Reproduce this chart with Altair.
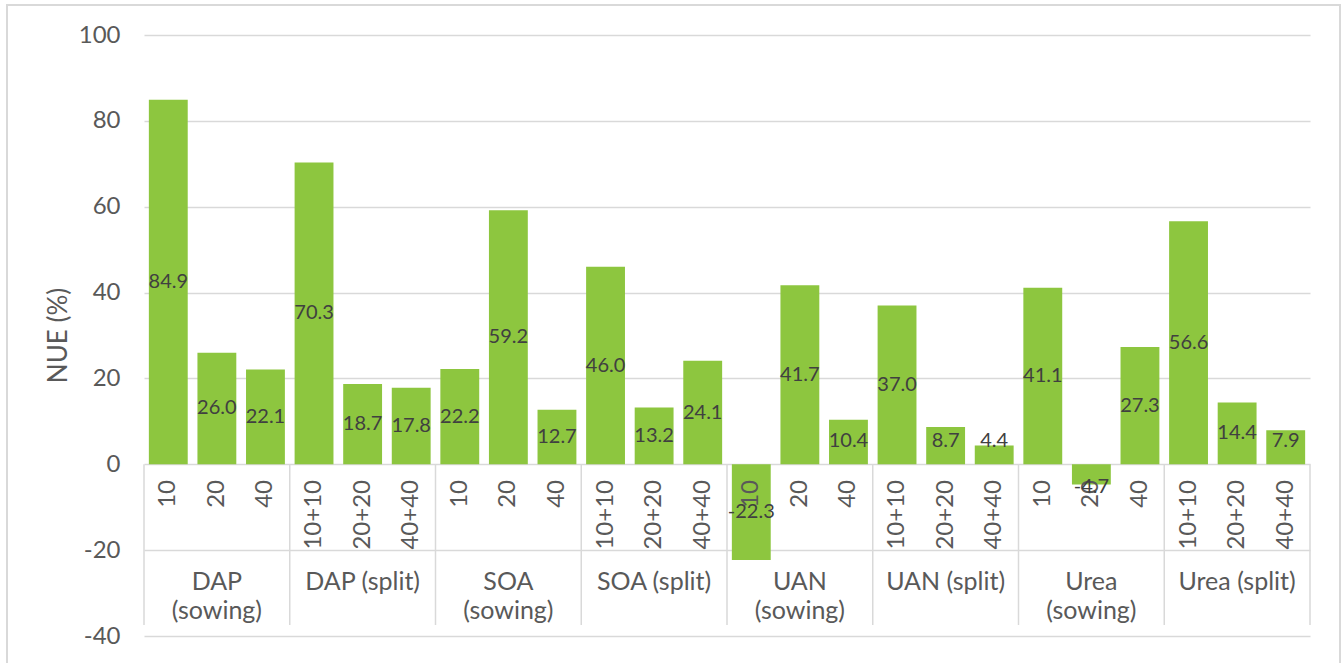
import altair as alt
import pandas as pd

groups = ["DAP\n(sowing)", "DAP (split)", "SOA\n(sowing)", "SOA (split)",
          "UAN\n(sowing)", "UAN (split)", "Urea\n(sowing)", "Urea (split)"]
doses_sowing = ["10", "20", "40"]
doses_split = ["10+10", "20+20", "40+40"]
values = [84.9, 26.0, 22.1, 70.3, 18.7, 17.8, 22.2, 59.2, 12.7, 46.0, 13.2, 24.1,
          -22.3, 41.7, 10.4, 37.0, 8.7, 4.4, 41.1, -4.7, 27.3, 56.6, 14.4, 7.9]
y_ticks = [-40, -20, 0, 20, 40, 60, 80, 100]

rows = []
for g_i, g in enumerate(groups):
    doses = doses_split if "split" in g else doses_sowing
    for d_i, d in enumerate(doses):
        i = g_i * 3 + d_i
        rows.append({"idx": i, "group": g, "dose": d, "value": values[i]})
df = pd.DataFrame(rows)
gdf = pd.DataFrame({"gidx": list(range(len(groups))), "group": groups})
sep = pd.DataFrame({"b": list(range(0, len(values) + 1, 3))})

FONT = "Lato"
TXT = "#595959"
GRID = "#D9D9D9"

xs = alt.Scale(domain=[0, len(values)], nice=False, zero=False)
ys = alt.Scale(domain=[-40, 100], nice=False)

yaxis = alt.Axis(values=y_ticks, title="NUE (%)", grid=True, gridColor=GRID, gridWidth=1.5,
                 domain=False, ticks=False, labelFont=FONT, labelFontSize=24, labelColor=TXT,
                 labelPadding=24, labelExpr="replace(datum.label, '\u2212', '-')",
                 titleFont=FONT, titleFontSize=26, titleColor=TXT,
                 titleFontWeight="normal", titleX=-86, titleY=300, titleAngle=270,
                 titleAlign="center", titleBaseline="middle")

bars = alt.Chart(df).transform_calculate(
    x0="datum.idx + 0.1", x1="datum.idx + 0.9"
).mark_bar(color="#8DC63F").encode(
    x=alt.X("x0:Q", scale=xs, axis=None),
    x2="x1:Q",
    y=alt.Y("value:Q", scale=ys, axis=yaxis),
    y2=alt.Y2(datum=0),
)

seps = alt.Chart(sep).mark_rule(color=GRID, strokeWidth=1.5).encode(
    x=alt.X("b:Q", scale=xs, axis=None),
    y=alt.Y(datum=0, type="quantitative", scale=ys, axis=yaxis),
    y2=alt.value(590),
)

dose_txt = alt.Chart(df).transform_calculate(xc="datum.idx + 0.5").mark_text(
    angle=270, align="right", baseline="middle", font=FONT, fontSize=24, color=TXT
).encode(
    x=alt.X("xc:Q", scale=xs, axis=None),
    y=alt.value(445),
    text="dose:N",
)

group_txt = alt.Chart(gdf).transform_calculate(gc="datum.gidx * 3 + 1.5").mark_text(
    lineBreak="\n", lineHeight=29, align="center", baseline="alphabetic",
    font=FONT, fontSize=25, color=TXT
).encode(
    x=alt.X("gc:Q", scale=xs, axis=None),
    y=alt.value(555),
    text="group:N",
)

val_txt = alt.Chart(df).transform_calculate(
    xc="datum.idx + 0.5",
    mid="datum.value >= 0 ? max(datum.value / 2, 5.4) : min(datum.value / 2, -5.4)",
    lbl="replace(format(datum.value, '.1f'), '\u2212', '-')",
).mark_text(font=FONT, fontSize=20, color="#404040", baseline="middle", align="center").encode(
    x=alt.X("xc:Q", scale=xs, axis=None),
    y=alt.Y("mid:Q", scale=ys, axis=yaxis),
    text="lbl:N",
)

border = alt.Chart(pd.DataFrame({"a": [0]})).mark_rect(
    fillOpacity=0, stroke=GRID, strokeWidth=2
).encode(
    x=alt.value(-137), x2=alt.value(1196), y=alt.value(-30), y2=alt.value(700)
)

chart = alt.layer(bars, border, seps, dose_txt, group_txt, val_txt).properties(
    width=1166, height=601,
    background="white",
    autosize=alt.AutoSizeParams(type="none"),
    padding={"left": 144, "top": 35, "right": 33, "bottom": 27},
).configure_view(stroke="transparent", strokeWidth=0)

chart.save("out.html", embed_options={"renderer": "svg", "actions": False})
